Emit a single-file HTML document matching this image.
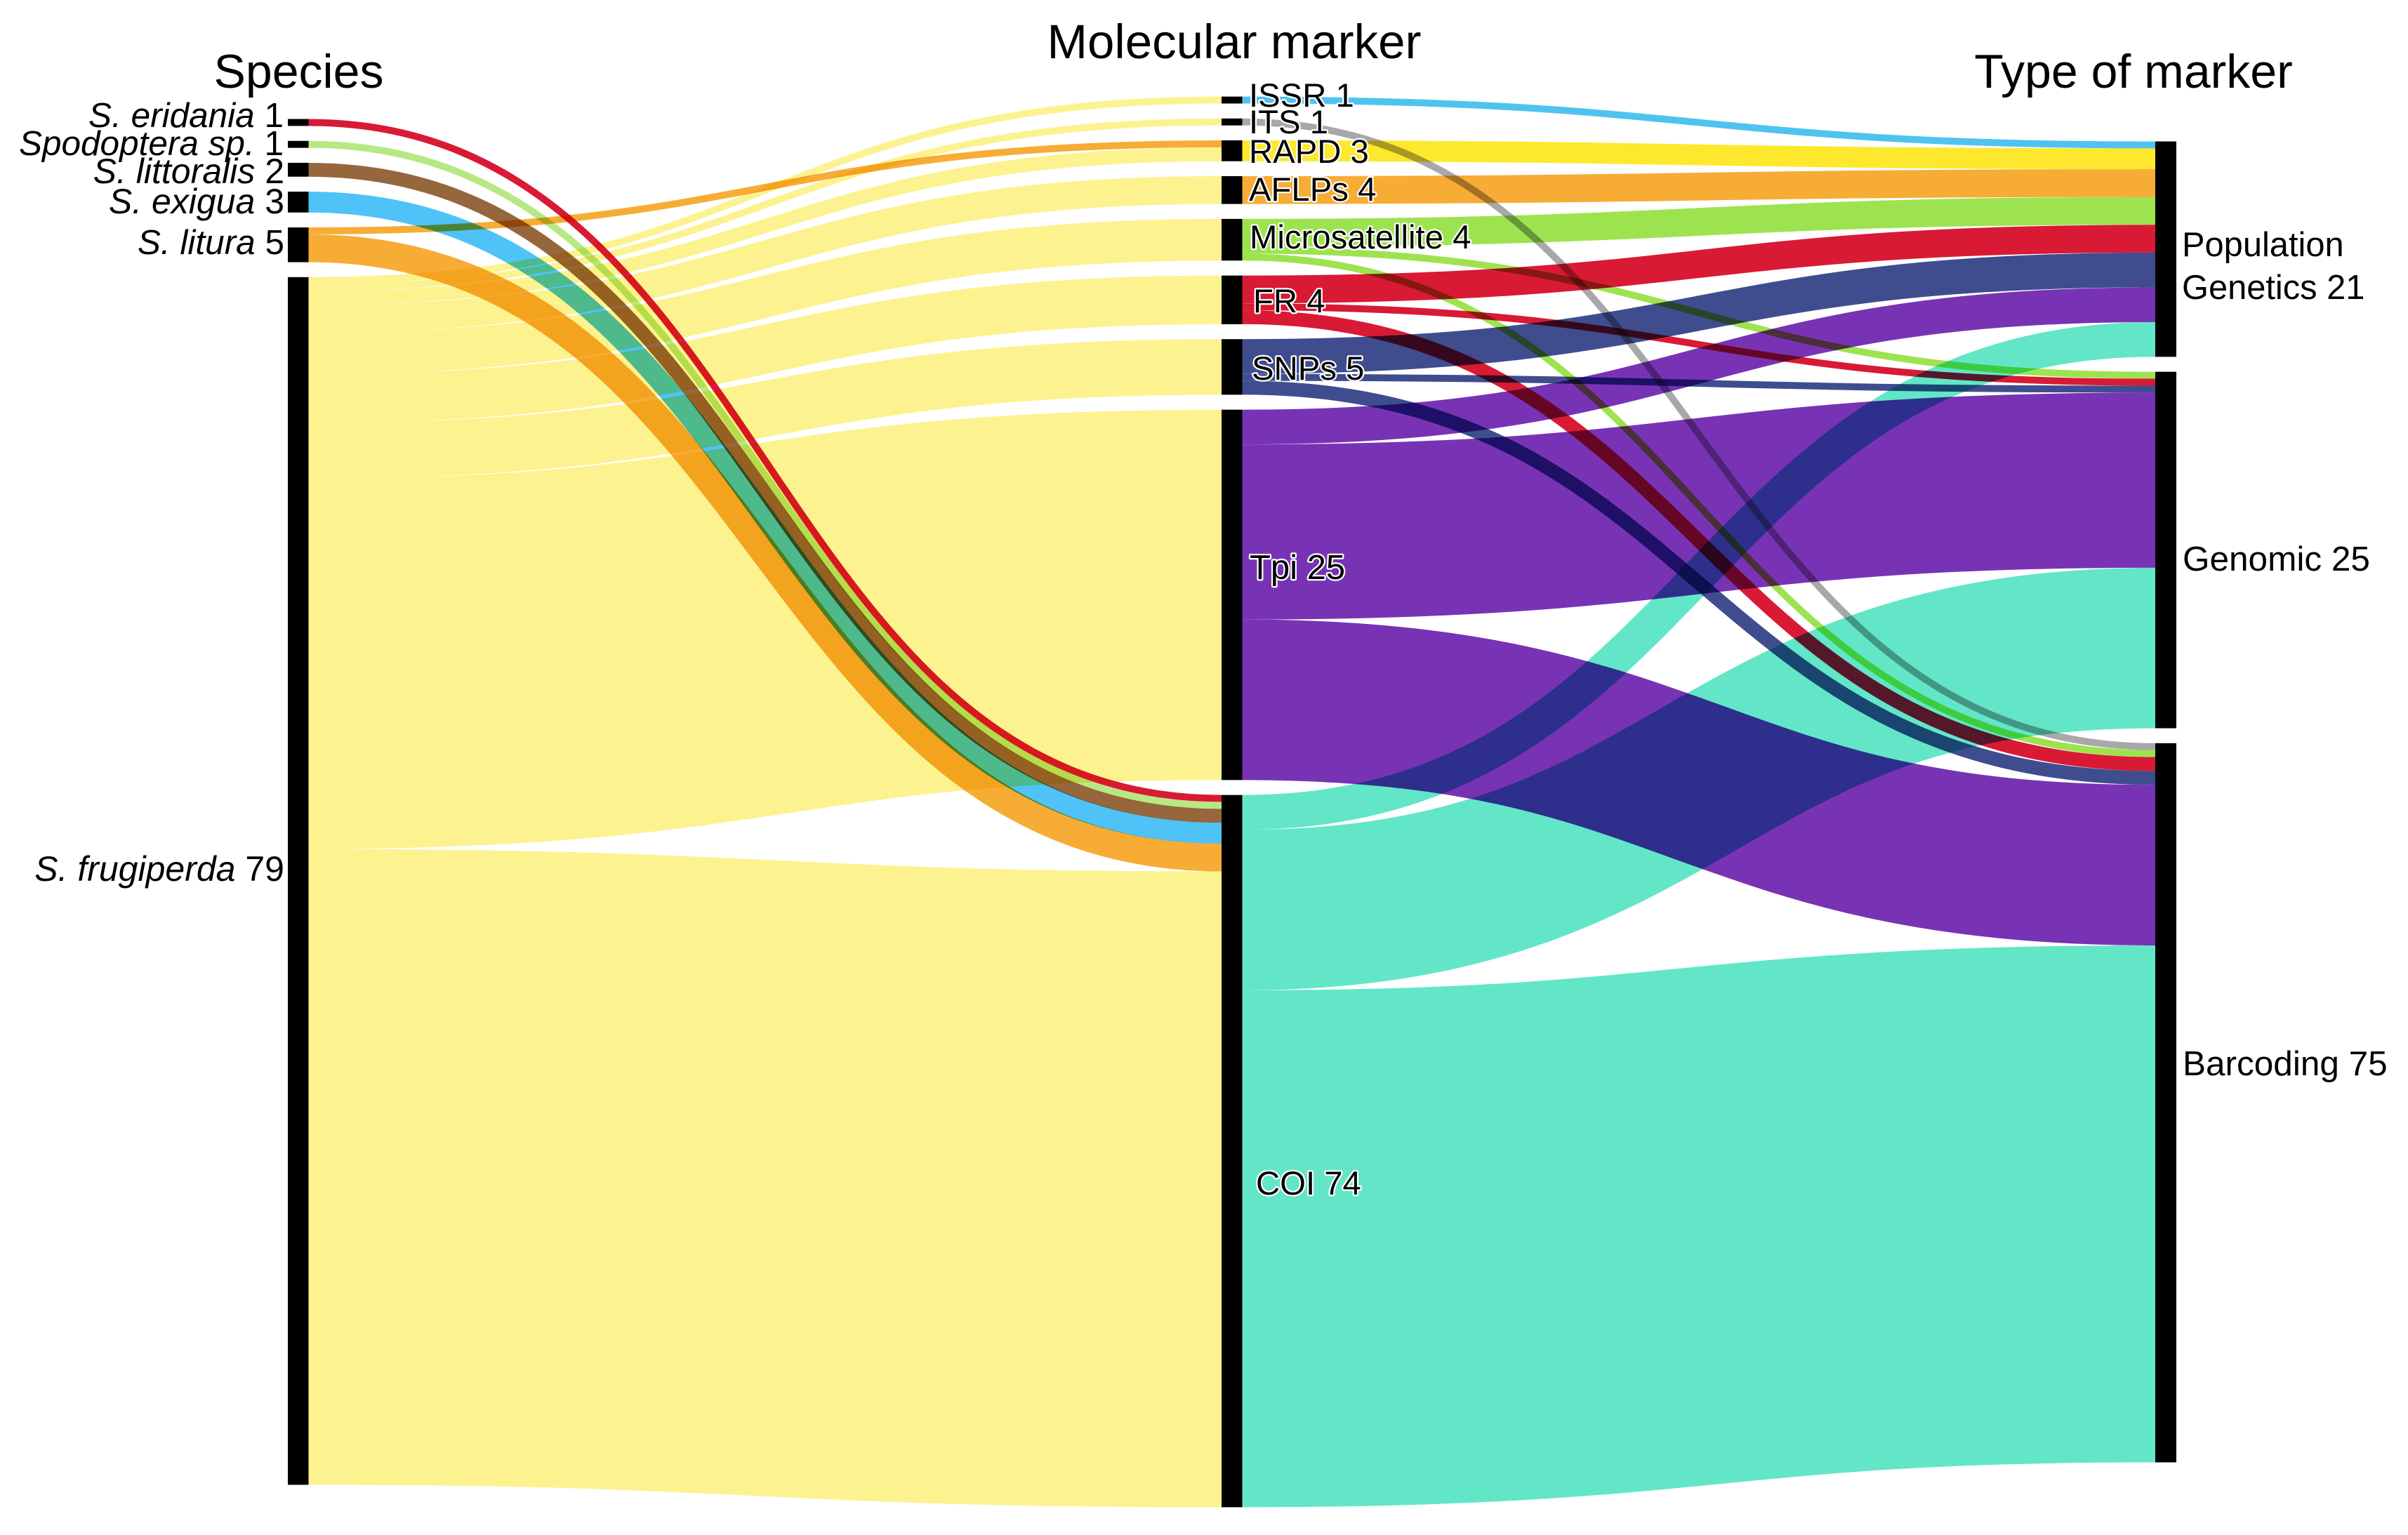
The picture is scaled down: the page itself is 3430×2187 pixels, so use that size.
<!DOCTYPE html>
<html lang="en">
<head>
<meta charset="utf-8">
<title>Sankey diagram of species, molecular markers and marker types</title>
<style>
  html, body { margin: 0; padding: 0; background: #fff; }
  body { width: 3430px; height: 2187px; overflow: hidden; }
  svg { display: block; isolation: isolate; }
  text { font-family: "Liberation Sans", Arial, sans-serif; fill: #000; }
  .link-group { mix-blend-mode: multiply; }
  .mid { font-size: 47.3px; paint-order: stroke; stroke: #fff; stroke-width: 4.5px; stroke-linejoin: round; }
  .head { font-size: 68px; }
  .sp { font-size: 50px; text-anchor: end; }
  .sp tspan.i { font-style: italic; }
  .ty { font-size: 49.5px; }
</style>
</head>
<body>
<svg id="chart" width="3430" height="2187" viewBox="0 0 3430 2187" xmlns="http://www.w3.org/2000/svg">
  <rect x="0" y="0" width="3430" height="2187" fill="#fff"></rect>
  <g id="links"></g>
  <g id="nodes"></g>

  <text class="head" x="425.5" y="125" text-anchor="middle">Species</text>
  <text class="head" x="1758" y="83" text-anchor="middle" style="font-size:69px">Molecular marker</text>
  <text class="head" x="3039" y="125" text-anchor="middle">Type of marker</text>

  <text class="sp" x="404" y="181" style="font-size:49.5px"><tspan class="i">S. eridania</tspan> 1</text>
  <text class="sp" x="404" y="221" style="font-size:49.5px"><tspan class="i">Spodoptera sp.</tspan> 1</text>
  <text class="sp" x="405" y="261"><tspan class="i">S. littoralis</tspan> 2</text>
  <text class="sp" x="405" y="304"><tspan class="i">S. exigua</tspan> 3</text>
  <text class="sp" x="405" y="362" style="font-size:49.5px"><tspan class="i">S. litura</tspan> 5</text>
  <text class="sp" x="405" y="1255"><tspan class="i">S. frugiperda</tspan> 79</text>

  <text class="mid" x="1779" y="152">ISSR 1</text>
  <text class="mid" x="1779" y="190">ITS 1</text>
  <text class="mid" x="1779" y="232">RAPD 3</text>
  <text class="mid" x="1779" y="286">AFLPs 4</text>
  <text class="mid" x="1780" y="354">Microsatellite 4</text>
  <text class="mid" x="1785" y="445">FR 4</text>
  <text class="mid" x="1783" y="541">SNPs 5</text>
  <text class="mid" x="1780" y="825" style="font-size:49px">Tpi 25</text>
  <text class="mid" x="1789" y="1702">COI 74</text>

  <text class="ty" x="3108" y="365" style="font-size:48.8px">Population</text>
  <text class="ty" x="3108" y="426" style="font-size:48.8px">Genetics 21</text>
  <text class="ty" x="3109" y="813">Genomic 25</text>
  <text class="ty" x="3109" y="1532">Barcoding 75</text>
</svg>

<script>
// ---- chart data -------------------------------------------------------
const speciesNames = ['eridania', 'spodoptera-sp', 'littoralis', 'exigua', 'litura', 'frugiperda'];
const markerNames = ['issr', 'its', 'rapd', 'aflps', 'microsatellite', 'fr', 'snps', 'tpi', 'coi'];
const typeNames = ['population-genetics', 'genomic', 'barcoding'];

// species -> marker flows (indices into speciesNames / markerNames)
const speciesFlowSource = [5, 5, 4, 5, 5, 5, 5, 5, 5, 0, 1, 2, 3, 4, 5];
const speciesFlowTarget = [0, 1, 2, 2, 3, 4, 5, 6, 7, 8, 8, 8, 8, 8, 8];
const speciesFlowValue = [1, 1, 1, 2, 4, 6, 7, 8, 53.3, 1, 1, 2, 3, 4, 91.5];

// marker -> type flows (indices into markerNames / typeNames)
const markerFlowSource = [0, 2, 3, 4, 5, 6, 7, 8, 4, 5, 6, 7, 8, 1, 4, 5, 6, 7, 8];
const markerFlowTarget = [0, 0, 0, 0, 0, 0, 0, 0, 1, 1, 1, 1, 1, 2, 2, 2, 2, 2, 2];
const markerFlowValue = [1, 3, 4, 4, 4, 5, 5, 5, 1, 1, 1, 25.2, 23.1, 1, 1, 2, 2, 23.1, 74.4];

// ---- style ------------------------------------------------------------
const speciesColors = ['#D91A35', '#B7E884', '#96663C', '#4FC3F7', '#F7AC35', '#FCF28F'];
const markerColors = ['#4FC3F0', '#A8A8A8', '#FDE82E', '#F7AC35', '#9DE350', '#D91A35', '#3F4D8F', '#7833B5', '#62E6C7'];

// ---- axis functions ---------------------------------------------------
const UNIT = 9.9;
const PAD = 21.3;
const CENTER_Y = 1142.5;
const COLUMN_X = [[410, 439.5], [1740, 1769.5], [3070, 3100]];
function heightOf(value) { return value * UNIT; }
function sumBy(indexes, values, n) {
  const out = new Array(n).fill(0);
  indexes.forEach(function (idx, i) { out[idx] += values[i]; });
  return out;
}
function layoutColumn(totals) {
  const sum = totals.reduce(function (a, b) { return a + b; }, 0);
  const span = heightOf(sum) + PAD * (totals.length - 1);
  let y = CENTER_Y - span / 2;
  return totals.map(function (t) {
    const top = y;
    y += heightOf(t) + PAD;
    return { top: top, height: heightOf(t), outY: top, inY: top };
  });
}

const speciesTotals = sumBy(speciesFlowSource, speciesFlowValue, speciesNames.length);
const markerTotals = sumBy(speciesFlowTarget, speciesFlowValue, markerNames.length);
const typeTotals = sumBy(markerFlowTarget, markerFlowValue, typeNames.length);
const speciesNodes = layoutColumn(speciesTotals);
const markerNodes = layoutColumn(markerTotals);
const typeNodes = layoutColumn(typeTotals);

const NS = 'http://www.w3.org/2000/svg';
const linksGroup = document.getElementById('links');
const nodesGroup = document.getElementById('nodes');

function drawFlows(srcIdx, tgtIdx, values, srcNodes, tgtNodes, x0, x1, colors, srcNames, tgtNames) {
  const order = values.map(function (_, i) { return i; });
  const outOrder = order.slice().sort(function (a, b) { return tgtIdx[a] - tgtIdx[b] || srcIdx[a] - srcIdx[b]; });
  const inOrder = order.slice().sort(function (a, b) { return srcIdx[a] - srcIdx[b] || tgtIdx[a] - tgtIdx[b]; });
  const y0 = [];
  const y1 = [];
  outOrder.forEach(function (i) {
    const n = srcNodes[srcIdx[i]];
    y0[i] = n.outY + heightOf(values[i]) / 2;
    n.outY += heightOf(values[i]);
  });
  inOrder.forEach(function (i) {
    const n = tgtNodes[tgtIdx[i]];
    y1[i] = n.inY + heightOf(values[i]) / 2;
    n.inY += heightOf(values[i]);
  });
  const xm = (x0 + x1) / 2;
  // one blended group per source node: a source's own flows never darken each other
  srcNames.forEach(function (srcName, s) {
    const group = document.createElementNS(NS, 'g');
    group.setAttribute('class', 'link-group');
    
    
    linksGroup.appendChild(group);
    order.forEach(function (i) {
      if (srcIdx[i] !== s) { return; }
      const d = 'M' + x0 + ' ' + y0[i] + 'C' + xm + ' ' + y0[i] + ' ' + xm + ' ' + y1[i] + ' ' + x1 + ' ' + y1[i];
      const el = document.createElementNS(NS, 'path');
      el.setAttribute('d', d);
      el.setAttribute('fill', 'none');
      el.setAttribute('stroke', colors[s]);
      el.setAttribute('stroke-width', heightOf(values[i]));
      
      
      group.appendChild(el);
    });
  });
}

function drawNodes(nodes, names, col) {
  nodes.forEach(function (n, i) {
    const el = document.createElementNS(NS, 'rect');
    el.setAttribute('x', COLUMN_X[col][0]);
    el.setAttribute('width', COLUMN_X[col][1] - COLUMN_X[col][0]);
    el.setAttribute('y', n.top);
    el.setAttribute('height', n.height);
    el.setAttribute('fill', '#000');
    
    
    nodesGroup.appendChild(el);
  });
}

drawFlows(speciesFlowSource, speciesFlowTarget, speciesFlowValue, speciesNodes, markerNodes,
  COLUMN_X[0][1], COLUMN_X[1][0], speciesColors, speciesNames, markerNames);
drawFlows(markerFlowSource, markerFlowTarget, markerFlowValue, markerNodes, typeNodes,
  COLUMN_X[1][1], COLUMN_X[2][0], markerColors, markerNames, typeNames);
drawNodes(speciesNodes, speciesNames, 0);
drawNodes(markerNodes, markerNames, 1);
drawNodes(typeNodes, typeNames, 2);
</script>
</body>
</html>
